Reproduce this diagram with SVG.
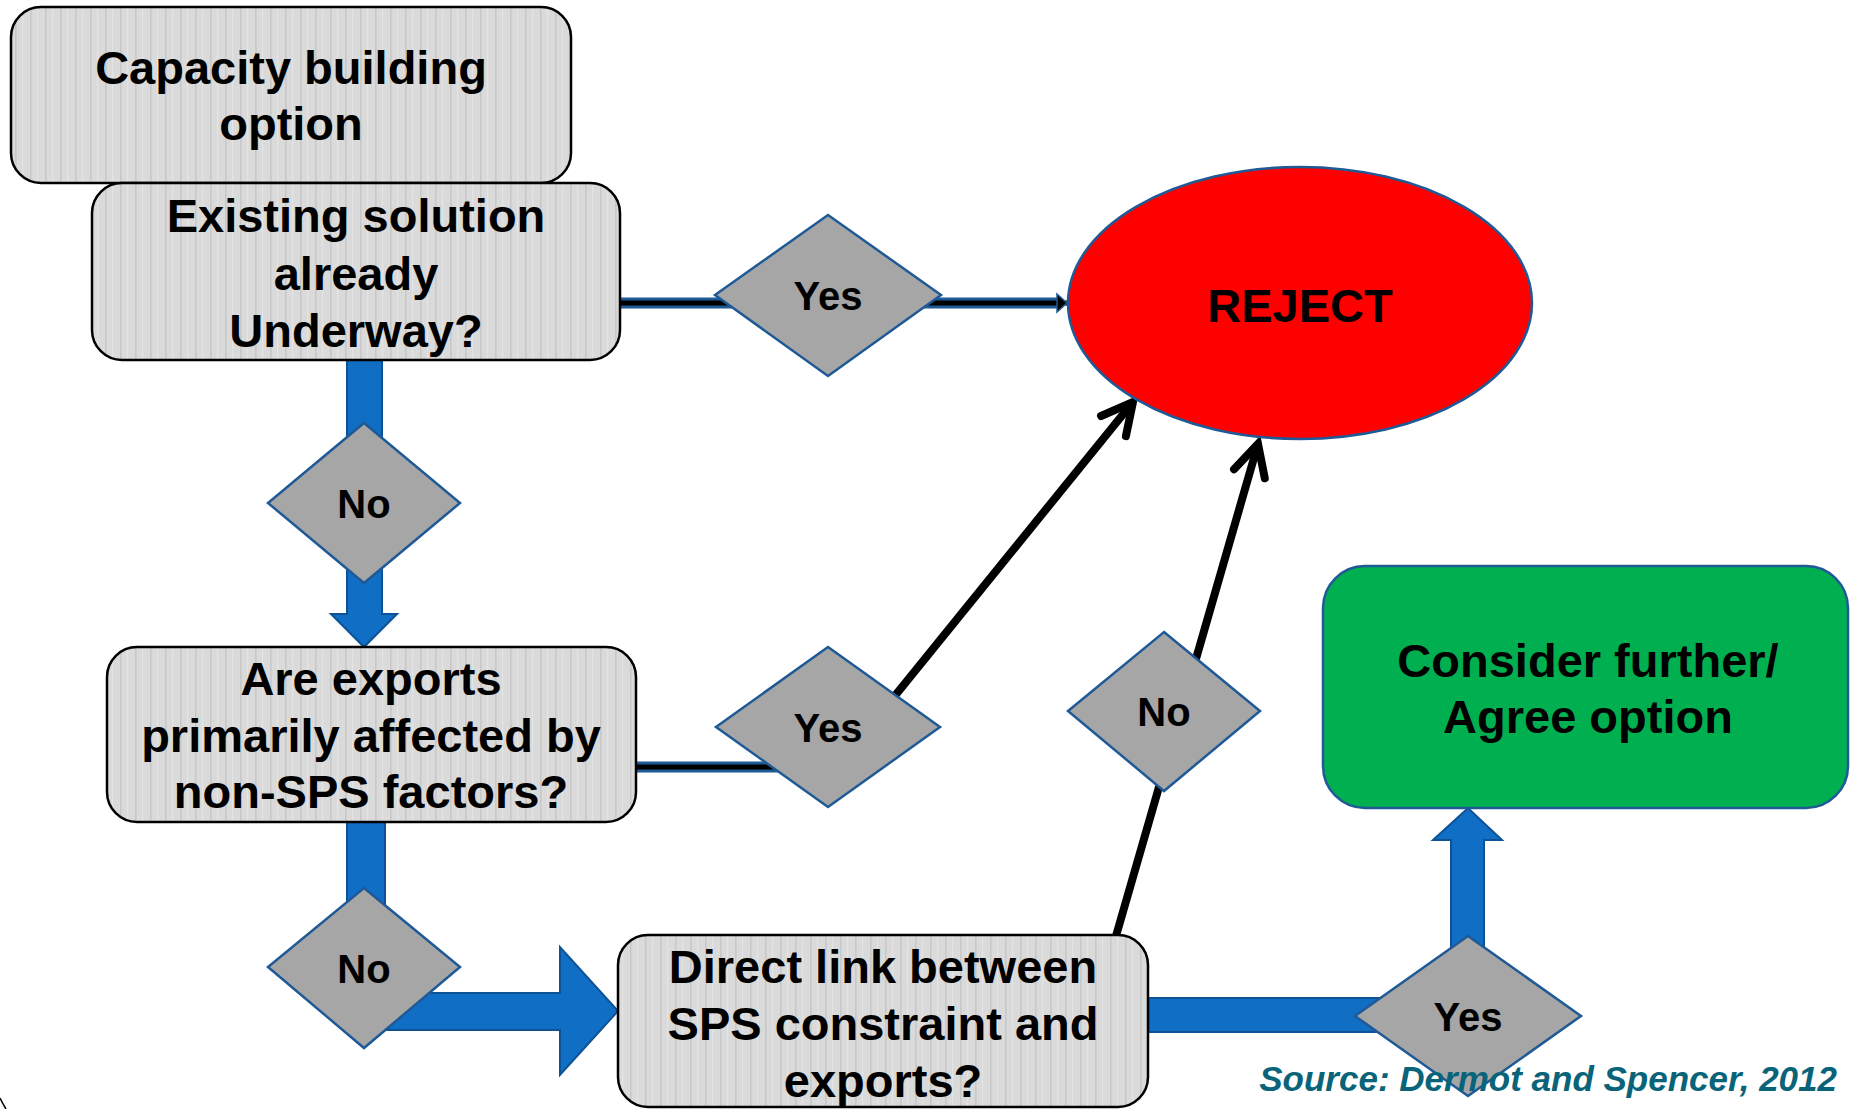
<svg xmlns="http://www.w3.org/2000/svg" width="1850" height="1109" viewBox="0 0 1850 1109">
  <defs>
    <pattern id="stripes" patternUnits="userSpaceOnUse" width="15" height="20">
      <rect width="15" height="20" fill="#DADADA"/>
      <rect x="0" width="1.6" height="20" fill="#C8C8C8"/>
      <rect x="7" width="1.2" height="20" fill="#E4E4E4"/>
    </pattern>
    <marker id="openArrow" markerUnits="userSpaceOnUse" markerWidth="50" markerHeight="50" viewBox="-40 -25 50 50" refX="0" refY="0" orient="auto">
      <path d="M -31,-16 L 0,0 L -31,16" fill="none" stroke="#000" stroke-width="8" stroke-linecap="round" stroke-linejoin="miter"/>
    </marker>
    <marker id="smallArrow" markerUnits="userSpaceOnUse" markerWidth="20" markerHeight="24" viewBox="-12 -12 14 24" refX="0" refY="0" orient="auto">
      <path d="M -10,-9 L 0,0 L -10,9 Z" fill="#000" stroke="#1F5A96" stroke-width="1.5"/>
    </marker>
  </defs>
  <style>
    .box { fill: url(#stripes); stroke: #000; stroke-width: 2.5; }
    .dia { fill: #A6A6A6; stroke: #1F5A96; stroke-width: 2.5; }
    .t { font-family: "Liberation Sans", Arial, sans-serif; font-weight: bold; fill: #000; text-anchor: middle; }
    .big { font-size: 47px; }
    .lbl { font-size: 40px; }
    .barrow { fill: #106EC5; stroke: #0E5296; stroke-width: 2; }
    .dblout { stroke: #1F5A96; stroke-width: 11; fill: none; }
    .dblin { stroke: #000; stroke-width: 5; fill: none; }
    .blk { stroke: #000; stroke-width: 8; fill: none; }
  </style>

  <!-- connectors -->
  <g id="connectors">
    <polygon class="barrow" points="347,360 382,360 382,614 397,614 364,647 331,614 347,614"/>
    <polygon class="barrow" points="347,822 385,822 385,993 560,993 560,947 618,1011 560,1075 560,1030 347,1030"/>
    <polygon class="barrow" points="1148,998 1451,998 1451,840 1433,840 1468,808 1502,840 1484,840 1484,1032 1148,1032"/>
    <line class="dblout" x1="620" y1="303" x2="1058" y2="303"/>
    <line class="dblin" x1="620" y1="303" x2="1067" y2="303" marker-end="url(#smallArrow)"/>
    <line class="dblout" x1="637" y1="767" x2="790" y2="767"/>
    <line class="dblin" x1="637" y1="767" x2="790" y2="767"/>
    <line class="blk" x1="868" y1="729" x2="1133" y2="402" marker-end="url(#openArrow)"/>
    <line class="blk" x1="1116" y1="936" x2="1258" y2="444" marker-end="url(#openArrow)"/>
  </g>

  <g id="node-capacity">
    <rect class="box" x="11" y="7" width="560" height="176" rx="30" ry="30"/>
    <text class="t big" x="291" y="84">Capacity building</text>
    <text class="t big" x="291" y="140">option</text>
  </g>

  <g id="node-existing">
    <rect class="box" x="92" y="183" width="528" height="177" rx="30" ry="30"/>
    <text class="t big" x="356" y="232">Existing solution</text>
    <text class="t big" x="356" y="290">already</text>
    <text class="t big" x="356" y="347">Underway?</text>
  </g>

  <g id="node-reject">
    <ellipse cx="1300" cy="303" rx="232" ry="136" fill="#FF0000" stroke="#1F5A96" stroke-width="2.5"/>
    <text class="t big" x="1300" y="322">REJECT</text>
  </g>

  <g id="node-yes1">
    <polygon class="dia" points="828,215 941,295 828,376 715,295"/>
    <text class="t lbl" x="828" y="310">Yes</text>
  </g>

  <g id="node-no1">
    <polygon class="dia" points="364,423 460,503 364,583 268,503"/>
    <text class="t lbl" x="364" y="518">No</text>
  </g>

  <g id="node-areexports">
    <rect class="box" x="107" y="647" width="529" height="175" rx="30" ry="30"/>
    <text class="t big" x="371" y="695">Are exports</text>
    <text class="t big" x="371" y="752">primarily affected by</text>
    <text class="t big" x="371" y="808">non-SPS factors?</text>
  </g>

  <g id="node-yes2">
    <polygon class="dia" points="828,647 940,727 828,807 716,727"/>
    <text class="t lbl" x="828" y="742">Yes</text>
  </g>

  <g id="node-no3">
    <polygon class="dia" points="1164,632 1260,711 1164,791 1068,711"/>
    <text class="t lbl" x="1164" y="726">No</text>
  </g>

  <g id="node-no2">
    <polygon class="dia" points="364,888 460,967 364,1048 268,967"/>
    <text class="t lbl" x="364" y="983">No</text>
  </g>

  <g id="node-direct">
    <rect class="box" x="618" y="935" width="530" height="172" rx="30" ry="30"/>
    <text class="t big" x="883" y="983">Direct link between</text>
    <text class="t big" x="883" y="1040">SPS constraint and</text>
    <text class="t big" x="883" y="1097">exports?</text>
  </g>

  <g id="node-consider">
    <rect x="1323" y="566" width="525" height="242" rx="42" ry="42" fill="#00B050" stroke="#1F5A96" stroke-width="2.5"/>
    <text class="t big" x="1588" y="677">Consider further/</text>
    <text class="t big" x="1588" y="733">Agree option</text>
  </g>

  <g id="node-yes3">
    <polygon class="dia" points="1468,936 1581,1016 1468,1096 1355,1016"/>
    <text class="t lbl" x="1468" y="1031">Yes</text>
  </g>

  <text id="source" x="1837" y="1091" font-family="'Liberation Sans', Arial, sans-serif" font-weight="bold" font-style="italic" font-size="35" fill="#0A6479" text-anchor="end">Source: Dermot and Spencer, 2012</text>

  <path d="M 0,1098 Q 3,1104 6,1109" fill="none" stroke="#000" stroke-width="1.5"/>
</svg>
